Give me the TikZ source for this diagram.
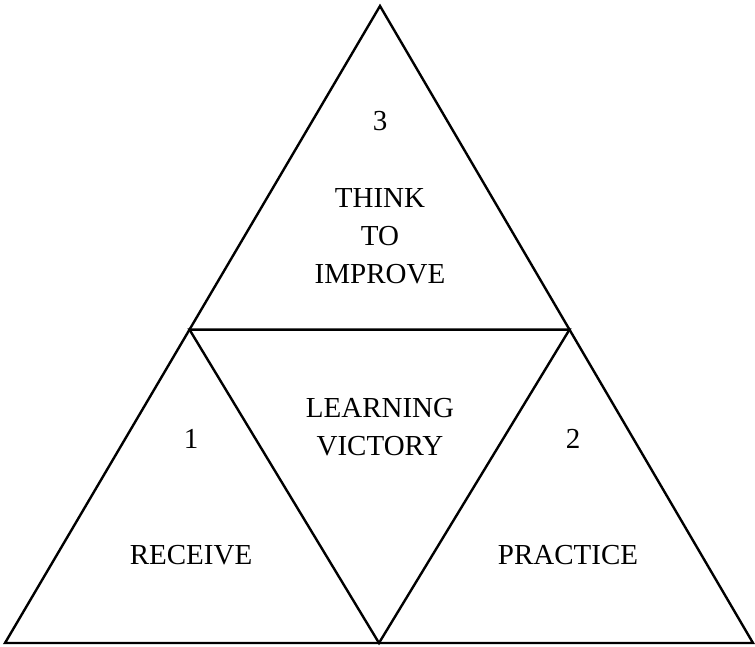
\documentclass[tikz,border=0pt]{standalone}
\usepackage{fontspec}
\setmainfont{Liberation Serif}
\usetikzlibrary{calc}
\begin{document}
\begin{tikzpicture}[x=1pt,y=-1pt,
  edge/.style={line width=2.4pt,line join=miter},
  lbl/.style={anchor=base,align=center,inner sep=0pt,font=\fontsize{29}{38}\selectfont}]
\useasboundingbox (0,0) rectangle (755,647);
\coordinate (A) at (380,6);
\coordinate (L) at (5,643);
\coordinate (R) at (753,643);
\coordinate (ML) at ($(A)!0.508!(L)$);
\coordinate (MR) at ($(A)!0.508!(R)$);
\coordinate (MB) at ($(L)!0.5!(R)$);
\draw[edge] (A) -- (L) -- (R) -- cycle;
\draw[edge] (ML) -- (MR) -- (MB) -- cycle;
\node[lbl] (n3) at (380,131) {3};
\node[lbl] (t3) at (380,283) {THINK\\TO\\IMPROVE};
\node[lbl] (n1) at (191,448) {1};
\node[lbl] (t1) at (191,564) {RECEIVE};
\node[lbl] (n2) at (573,448) {2};
\node[lbl] (t2) at (568,564) {PRACTICE};
\node[lbl] (tc) at (380,455) {LEARNING\\VICTORY};
\end{tikzpicture}
\end{document}
